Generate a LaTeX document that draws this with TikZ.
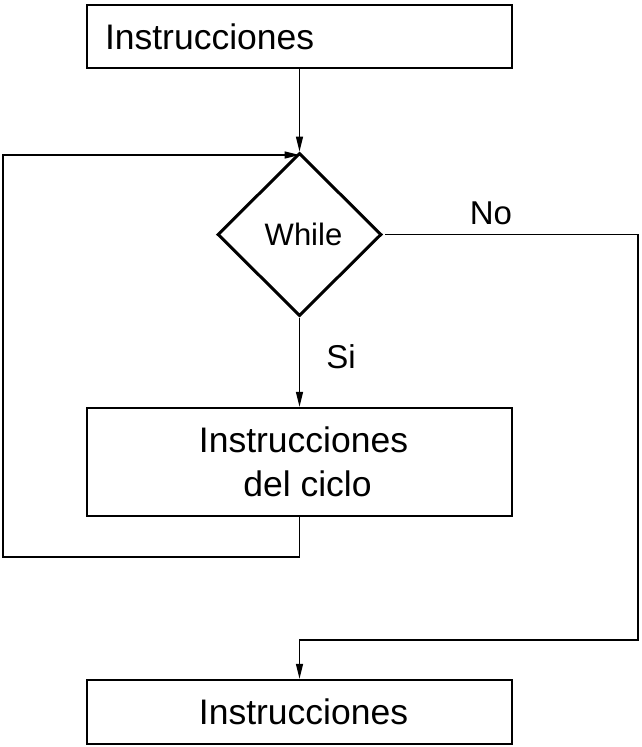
\documentclass[tikz,border=0pt]{standalone}
\usepackage{fontspec}
\setmainfont{Liberation Sans}
\usetikzlibrary{arrows.meta,shapes.geometric}
\begin{document}
\begin{tikzpicture}[x=1pt,y=-1pt,
  box/.style={draw, line width=2.5pt, rectangle, inner sep=0pt, minimum width=425pt,
    font=\fontsize{35.5}{44}\selectfont},
  decision/.style={draw, line width=3pt, diamond, aspect=1, inner sep=0pt,
    minimum width=164pt, minimum height=163pt, font=\fontsize{31}{36}\selectfont},
  arr/.style={line width=1.3pt, -{Triangle[length=15pt,width=7pt]}},
  lbl/.style={inner sep=0pt, font=\fontsize{33}{38}\selectfont}]
\useasboundingbox (0,0) rectangle (642,747);
\node[box, minimum height=63pt, text width=389pt, align=left, inner xsep=18pt] (top) at (299.5,36.5) {Instrucciones};
\node[decision] (dia) at (299.5,234.5) {\hspace*{8pt}While};
\node[box, minimum height=108pt, align=center] (mid) at (299.5,462) {\hspace*{8pt}Instrucciones\\\hspace*{16pt}del ciclo};
\node[box, minimum height=64pt] (bot) at (299.5,712) {\hspace*{8pt}\raisebox{-2pt}{Instrucciones}};
\coordinate (lb) at (3,557);
\coordinate (lt) at (3,155);
\coordinate (r1) at (638,640);
\draw[arr] (top.south) -- (dia.north);
\draw[arr] (dia.south) -- (mid.north);
\draw[arr] (mid.south) |- (lb) -- (lt) -- (lt -| dia.north);
\draw[arr] ([xshift=2pt]dia.east) -| (r1) -| (bot.north);
\node[lbl] (si) at (341,357) {Si};
\node[lbl] (no) at (491,213) {No};
\end{tikzpicture}
\end{document}
